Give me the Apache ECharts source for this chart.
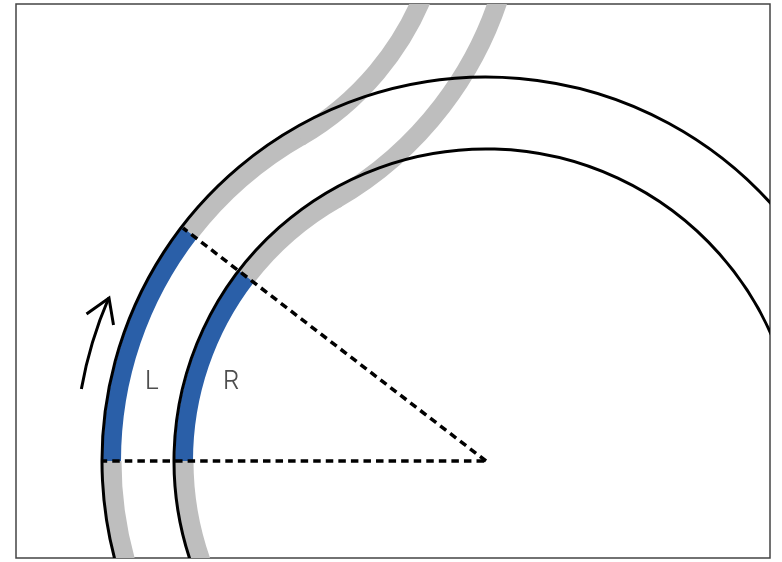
<!DOCTYPE html>
<html><head><meta charset="utf-8">
<style>html,body{margin:0;padding:0;background:#fff}#c{width:782px;height:562px}</style>
<script src="https://cdn.jsdelivr.net/npm/echarts@6/dist/echarts.min.js"></script>
</head><body><div id="c"></div>
<script>
// Values; origin is the centre of the turn, y points up.
// Each arc row: centre x, centre y, radius, from angle, to angle (degrees, counter-clockwise from +x).
var railArcs = [[0,0,384,40,200],[0,0,312,20,200]];
var grayMainArcs = [[0,0,374,119.5,142.4],[0,0,374,180,200],[0,0,302,119.5,142.4],[0,0,302,180,200]];
var grayReverseArcs = [[-332,576,291,-60,-20],[-332,576,363,-60,-15]];
var blueArcs = [[0,0,374,142.4,180],[0,0,302,142.4,180]];
var arrowArc = [[0,0,411,156.6,169.9]];
var dashFlat = [[0,0],[-383,0]];
var dashSlant = [[0,0],[-303,233]];
var arrowHead = [[-399.5,147],[-377,163],[-372.5,136]];
var labels = [{name:'L',value:[-334,80]},{name:'R',value:[-255,80]}];

var GRAY='#BEBEBE', BLUE='#2A5FA8', BLACK='#000';
function arcs(data,color,width){
  return {type:'custom',data:data,silent:true,clip:true,animation:false,coordinateSystem:'cartesian2d',
    encode:{x:0,y:1},
    renderItem:function(params,api){
      var c=api.coord([api.value(0),api.value(1)]);
      var r=api.size([api.value(2),0])[0];
      return {type:'arc',
        shape:{cx:c[0],cy:c[1],r:r,startAngle:-api.value(3)*Math.PI/180,endAngle:-api.value(4)*Math.PI/180,clockwise:false},
        style:{stroke:color,lineWidth:width,fill:null,lineCap:'butt'}};
    }};
}
function path(data,color,width,extra){
  return {type:'line',data:data,symbol:'none',silent:true,animation:false,clip:true,
    lineStyle:Object.assign({color:color,width:width,cap:'butt',join:'miter'},extra||{})};
}
var chart=echarts.init(document.getElementById('c'),null,{renderer:'canvas'});
chart.setOption({
  animation:false,backgroundColor:'#fff',
  grid:{show:true,left:16,top:4,width:754,height:554,borderColor:'#444',borderWidth:1.5,backgroundColor:'#fff'},
  xAxis:{type:'value',min:-470,max:284,show:false},
  yAxis:{type:'value',min:-97,max:457,show:false},
  series:[
    arcs(grayMainArcs,GRAY,19),arcs(grayReverseArcs,GRAY,19),
    arcs(blueArcs,BLUE,18),
    arcs(railArcs,BLACK,3),
    path(dashFlat,BLACK,3.5,{type:[7.5,5.06],dashOffset:10.56}),path(dashSlant,BLACK,3.5,{type:[7.5,5.06]}),
    arcs(arrowArc,BLACK,3),path(arrowHead,BLACK,3),
    {type:'scatter',data:labels,symbolSize:0,silent:true,
     label:{show:true,position:'inside',formatter:'{b}',fontFamily:'Inter',fontWeight:300,fontSize:26,color:'#222'}}
  ]
});
</script></body></html>
